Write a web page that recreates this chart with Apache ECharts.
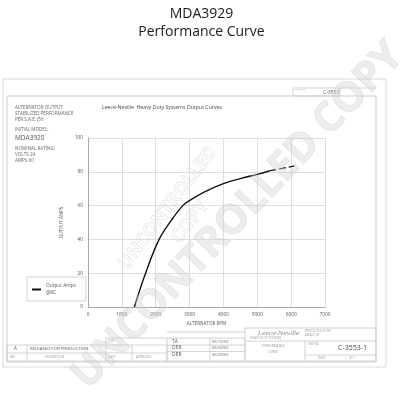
<!DOCTYPE html>
<html><head><meta charset="utf-8">
<script src="https://cdn.jsdelivr.net/npm/echarts@6/dist/echarts.min.js"></script>
<style>html,body{margin:0;padding:0;background:#fff}#c{width:403px;height:400px}</style>
</head><body><div id="c"></div>
<script>
var xTicks = [0, 1000, 2000, 3000, 4000, 5000, 6000, 7000];
var yTicks = [0, 20, 40, 60, 80, 100];
var rpm = [1370, 1700, 2100, 2450, 2800, 3000, 3430, 4000, 4500, 5000, 5350];
var amps = [0, 20, 40, 51, 60, 63, 68, 73, 76, 78.5, 80.5];
var rpmExt = [5350, 6100];
var ampsExt = [80.5, 83.5];

var chart = echarts.init(document.getElementById('c'), null, {renderer: 'canvas'});
var F = "'Open Sans', 'Noto Sans', sans-serif";
function txt(x, y, s, size, color, extra) {
  var st = {text: s, x: 0, y: 0, fontFamily: F, fontSize: size || 5, fill: color || '#555', verticalAlign: 'middle'};
  if (extra) for (var k in extra) st[k] = extra[k];
  return {type: 'text', x: x, y: y, silent: true, style: st, z: 10};
}
function ln(x1, y1, x2, y2, c) {
  return {type: 'line', shape: {x1: x1, y1: y1, x2: x2, y2: y2}, style: {stroke: c || '#c8c8c8', lineWidth: 0.8}, silent: true, z: 5};
}
function rc(x, y, w, h, c) {
  return {type: 'rect', shape: {x: x, y: y, width: w, height: h}, style: {fill: 'none', stroke: c || '#c8c8c8', lineWidth: 0.8}, silent: true, z: 5};
}

var graphics = [
  rc(3, 79, 383, 288, '#d0d0d0'),
  rc(7, 96, 369, 266, '#c0c0c0'),
  rc(293, 88, 47, 8, '#c8c8c8'),
  ln(340, 88, 376, 88, '#d0d0d0'),
  txt(295, 89.5, 'DWG NO', 2.5, '#999'),
  txt(323, 92.5, 'C-3553', 5, '#555'),
  txt(15, 108, 'ALTERNATOR OUTPUT', 4.6, '#666'),
  txt(15, 114, 'STABILIZED PERFORMANCE', 4.6, '#666'),
  txt(15, 120, 'PER S.A.E. J56', 4.6, '#666'),
  txt(15, 130, 'INITIAL MODEL:', 4.6, '#666'),
  txt(15, 138, 'MDA3920', 6.5, '#555'),
  txt(15, 149, 'NOMINAL RATING:', 4.6, '#666'),
  txt(15, 155, 'VOLTS 24', 4.6, '#666'),
  txt(15, 161, 'AMPS 60', 4.6, '#666'),
  txt(102, 108, 'Leece-Neville  Heavy Duty Systems Output Curves', 5.2, '#444'),
  {type: 'text', x: 168, y: 208, rotation: 0.92, silent: true, z: 1,
   style: {text: 'UNCONTROLLED', x: 0, y: 0, align: 'center', verticalAlign: 'middle', fontFamily: F, fontSize: 18, fontWeight: 'bold', fill: 'rgba(255,255,255,0)', stroke: 'rgba(190,190,190,0.45)', lineWidth: 0.7}},
  {type: 'text', x: 190, y: 222, rotation: 0.92, silent: true, z: 1,
   style: {text: 'COPY', x: 0, y: 0, align: 'center', verticalAlign: 'middle', fontFamily: F, fontSize: 18, fontWeight: 'bold', fill: 'rgba(255,255,255,0)', stroke: 'rgba(190,190,190,0.45)', lineWidth: 0.7}},
  rc(7, 345, 160, 16),
  ln(7, 353, 167, 353),
  ln(27, 345, 27, 361), ln(106, 338, 106, 361), ln(132, 345, 132, 361),
  ln(106, 338, 167, 338),
  txt(14, 349, 'A', 4.5, '#555'),
  txt(30, 349, 'RELEASED FOR PRODUCTION', 4.3, '#555'),
  txt(10, 357, 'REV', 3, '#999'),
  txt(45, 357, 'DESCRIPTION', 3, '#999'),
  txt(108, 341, 'ECN', 3, '#999'),
  txt(108, 357, 'DATE', 3, '#999'),
  txt(136, 357, 'APPROVED', 3, '#999'),
  rc(167, 338, 78, 23),
  ln(167, 345, 245, 345), ln(167, 351.5, 245, 351.5),
  ln(210, 338, 210, 361),
  txt(172, 341.5, 'TA', 5, '#555'), txt(172, 348, 'DER', 5, '#555'), txt(172, 354.5, 'DER', 5, '#555'),
  txt(212, 341.5, '05/15/02', 4, '#666'), txt(212, 348, '06/20/02', 4, '#666'), txt(212, 354.5, '06/20/02', 4, '#666'),
  rc(245, 328, 131, 33),
  ln(245, 341, 376, 341), ln(305, 341, 305, 361), ln(305, 355, 376, 355),
  ln(167, 332, 245, 332),
  txt(258, 333, 'Leece-Neville', 6, '#888', {fontStyle: 'italic', fontFamily: 'DejaVu Serif'}),
  txt(250, 338.5, 'HEAVY DUTY SYSTEMS', 3, '#999'),
  txt(305, 331, 'PRESTOLITE ELECTRIC', 2.6, '#999'),
  txt(305, 335, 'ARCADE, NY', 2.6, '#999'),
  txt(262, 346, 'PERFORMANCE', 3.2, '#999'),
  txt(268, 352, 'CURVE', 3.2, '#999'),
  txt(308, 344, 'DWG NO', 2.6, '#999'),
  txt(338, 348, 'C-3553-1', 7, '#444'),
  txt(318, 358, 'SHEET', 2.6, '#999'),
  txt(345, 358, '1   OF 1', 3, '#999'),
  {type: 'text', x: 238, y: 216, rotation: 0.81, silent: true, z: 50,
   style: {text: 'UNCONTROLLED COPY', x: 0, y: 0, align: 'center', verticalAlign: 'middle', fontFamily: F, fontSize: 41, fontWeight: 'bold', fill: 'rgba(210,210,210,0.4)', stroke: 'rgba(180,180,180,0.3)', lineWidth: 0.8}}
];

chart.setOption({
  animation: false,
  backgroundColor: '#fff',
  title: [
    {text: 'MDA3929', left: 'center', top: 2, textStyle: {fontFamily: F, fontSize: 14, fontWeight: 'normal', color: '#1a1a1a'}},
    {text: 'Performance Curve', left: 'center', top: 20, textStyle: {fontFamily: F, fontSize: 14, fontWeight: 'normal', color: '#1a1a1a'}}
  ],
  legend: {
    data: ['Output Amps'], left: 27, top: 277, orient: 'vertical',
    itemWidth: 9, itemHeight: 2, itemGap: 2,
    borderColor: '#c8c8c8', borderWidth: 0.8, padding: [4, 10, 3, 4],
    formatter: function () { return 'Output Amps\n@RC'; },
    textStyle: {fontFamily: F, fontSize: 4.8, color: '#555', lineHeight: 7, padding: [3, 0, 0, 0]}
  },
  grid: {left: 88, right: 78, top: 138, bottom: 93, containLabel: false},
  xAxis: {
    type: 'value', min: xTicks[0], max: xTicks[xTicks.length - 1], interval: 1000,
    name: 'ALTERNATOR RPM', nameLocation: 'middle', nameGap: 14,
    nameTextStyle: {fontFamily: F, fontSize: 4.6, color: '#555'},
    axisLine: {lineStyle: {color: '#999', width: 0.8}}, axisTick: {show: false},
    axisLabel: {fontFamily: F, fontSize: 4.8, color: '#555', margin: 5, formatter: function (v) { return String(v); }},
    splitLine: {show: true, lineStyle: {color: '#d6d6d6', width: 0.8}}
  },
  yAxis: {
    type: 'value', min: yTicks[0], max: yTicks[yTicks.length - 1], interval: 20,
    name: 'OUTPUT AMPS', nameLocation: 'middle', nameGap: 15, nameRotate: 90,
    nameTextStyle: {fontFamily: F, fontSize: 4.6, color: '#555'},
    axisLine: {show: true, lineStyle: {color: '#999', width: 0.8}}, axisTick: {show: false},
    axisLabel: {fontFamily: F, fontSize: 4.8, color: '#555', margin: 5},
    splitLine: {show: true, lineStyle: {color: '#d6d6d6', width: 0.8}}
  },
  series: [
    {name: 'Output Amps', type: 'line', smooth: 0.4, symbol: 'none', z: 20,
     data: rpm.map(function (r, i) { return [r, amps[i]]; }),
     lineStyle: {color: '#111', width: 1.4}, itemStyle: {color: '#111'}},
    {name: 'ext', type: 'line', symbol: 'none', z: 20,
     data: rpmExt.map(function (r, i) { return [r, ampsExt[i]]; }),
     lineStyle: {color: '#111', width: 1.2, type: [7, 3]}}
  ],
  graphic: graphics
});
</script></body></html>
